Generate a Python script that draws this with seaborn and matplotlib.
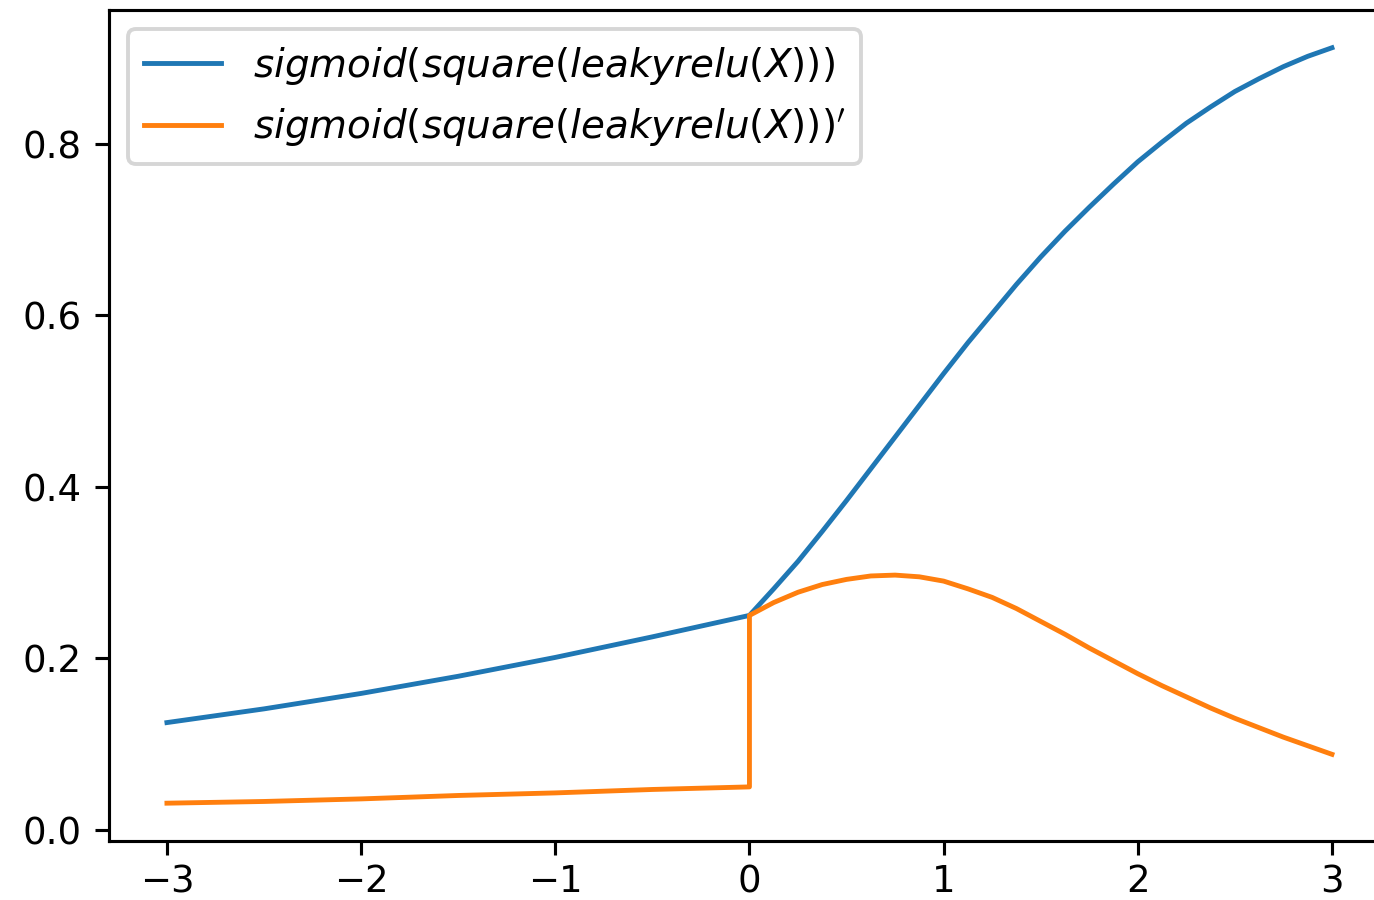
import matplotlib
matplotlib.use("Agg")
import matplotlib.pyplot as plt
import seaborn as sns
import pandas as pd

# Activation curve: sigmoid(square(leakyrelu(X)))
fx = [-3.0, -2.5, -2.0, -1.5, -1.0, -0.5, 0.0,
      0.125, 0.25, 0.375, 0.5, 0.625, 0.75, 0.875, 1.0, 1.125, 1.25, 1.375,
      1.5, 1.625, 1.75, 1.875, 2.0, 2.125, 2.25, 2.375, 2.5, 2.625, 2.75, 2.875, 3.0]
fy = [0.125, 0.141, 0.159, 0.179, 0.201, 0.225, 0.250,
      0.281, 0.313, 0.348, 0.384, 0.421, 0.458, 0.495, 0.532, 0.568, 0.602, 0.636,
      0.668, 0.698, 0.726, 0.753, 0.779, 0.802, 0.824, 0.843, 0.861, 0.876, 0.890, 0.902, 0.912]

# Its derivative (jumps at X = 0)
dx = [-3.0, -2.5, -2.0, -1.5, -1.0, -0.5, 0.0, 0.0,
      0.125, 0.25, 0.375, 0.5, 0.625, 0.75, 0.875, 1.0, 1.125, 1.25, 1.375,
      1.5, 1.625, 1.75, 1.875, 2.0, 2.125, 2.25, 2.375, 2.5, 2.625, 2.75, 2.875, 3.0]
dy = [0.031, 0.033, 0.036, 0.040, 0.043, 0.047, 0.050, 0.250,
      0.265, 0.277, 0.286, 0.292, 0.296, 0.297, 0.295, 0.290, 0.281, 0.271, 0.258,
      0.243, 0.228, 0.212, 0.197, 0.182, 0.168, 0.155, 0.142, 0.130, 0.119, 0.108, 0.098, 0.088]

labels = [r"$sigmoid(square(leakyrelu(X)))$", r"$sigmoid(square(leakyrelu(X)))'$"]
colors = sns.color_palette("tab10", 2)

fig = plt.figure(figsize=(1374 / 280, 900 / 280), dpi=280)
ax = fig.add_axes([0.0791, 0.0656, 0.9327, 0.9233])

sns.lineplot(data=pd.DataFrame({"x": fx, "y": fy}), x="x", y="y",
             estimator=None, sort=False, color=colors[0], label=labels[0],
             linewidth=1.25, ax=ax)
sns.lineplot(data=pd.DataFrame({"x": dx, "y": dy}), x="x", y="y",
             estimator=None, sort=False, color=colors[1], label=labels[1],
             linewidth=1.25, ax=ax)

ax.set_xlabel("")
ax.set_ylabel("")
ax.set_xticks([-3, -2, -1, 0, 1, 2, 3])
ax.set_yticks([0.0, 0.2, 0.4, 0.6, 0.8])
ax.tick_params(axis="x", labelsize=9.5, pad=2.2)
ax.tick_params(axis="y", labelsize=9.5)
ax.legend(loc="upper left")

fig.savefig("out.png", dpi=280)
